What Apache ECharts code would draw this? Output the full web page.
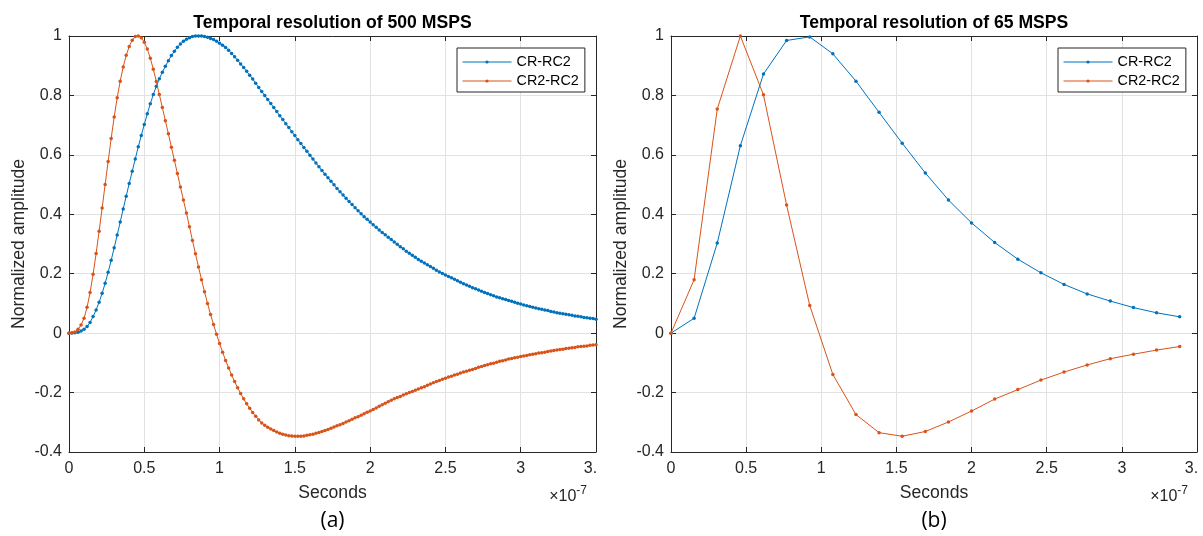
<!DOCTYPE html>
<html><head><meta charset="utf-8">
<script src="https://cdn.jsdelivr.net/npm/echarts@6/dist/echarts.min.js"></script>
<style>html,body{margin:0;padding:0;background:#fff}#c{width:1203px;height:536px}</style>
</head><body><div id="c"></div>
<script>
// ---------- data ----------
const SERIES_NAMES = ['CR-RC2', 'CR2-RC2'];
const TITLES = ['Temporal resolution of 500 MSPS', 'Temporal resolution of 65 MSPS'];
const PANEL_LABELS = ['(a)', '(b)'];
const X_NAME = 'Seconds';
const Y_NAME = 'Normalized amplitude';
const X_TICK_LABELS = ['0', '0.5', '1', '1.5', '2', '2.5', '3', '3.'];
const Y_TICK_LABELS = ['-0.4', '-0.2', '0', '0.2', '0.4', '0.6', '0.8', '1'];
const SAMPLE_RATE_A = 500e6;   // samples per second, panel (a)
const SAMPLE_RATE_B = 65e6;    // samples per second, panel (b)
const X_EXPONENT = 1e-7;

// panel (a): 500 MSPS
const CR_RC2_A = [
0,0.0002,0.001,0.003,0.007,0.013,0.022,0.036,0.056,0.078,
0.104,0.134,0.168,0.205,0.245,0.287,0.330,0.374,0.418,0.461,
0.504,0.545,0.586,0.627,0.665,0.702,0.738,0.772,0.803,0.831,
0.856,0.878,0.898,0.917,0.934,0.949,0.962,0.973,0.982,0.989,
0.994,0.998,1.000,1.000,1.000,0.998,0.996,0.992,0.988,0.982,
0.976,0.969,0.961,0.952,0.941,0.930,0.918,0.906,0.894,0.881,
0.868,0.855,0.841,0.827,0.813,0.800,0.786,0.773,0.759,0.746,
0.732,0.719,0.705,0.692,0.678,0.665,0.651,0.638,0.625,0.612,
0.599,0.586,0.573,0.560,0.547,0.535,0.523,0.511,0.499,0.487,
0.476,0.465,0.454,0.443,0.433,0.422,0.412,0.402,0.392,0.383,
0.374,0.365,0.356,0.347,0.339,0.331,0.323,0.315,0.307,0.299,
0.291,0.284,0.276,0.269,0.262,0.255,0.248,0.242,0.236,0.230,
0.224,0.218,0.212,0.206,0.201,0.196,0.191,0.186,0.181,0.176,
0.171,0.166,0.162,0.158,0.153,0.149,0.145,0.141,0.137,0.133,
0.129,0.126,0.122,0.119,0.116,0.113,0.110,0.107,0.104,0.101,
0.098,0.095,0.092,0.090,0.087,0.085,0.082,0.080,0.078,0.076,
0.073,0.071,0.069,0.067,0.065,0.064,0.062,0.060,0.058,0.057,
0.055,0.053,0.052,0.050,0.049,0.047
];
const CR2_RC2_A = [
0,0.001,0.004,0.013,0.027,0.050,0.087,0.137,0.198,0.268,
0.343,0.421,0.500,0.578,0.655,0.727,0.792,0.848,0.896,0.935,
0.965,0.986,0.998,1.000,0.994,0.979,0.956,0.925,0.888,0.847,
0.803,0.759,0.715,0.671,0.626,0.582,0.537,0.492,0.448,0.404,
0.358,0.312,0.267,0.223,0.180,0.139,0.100,0.063,0.029,-0.004,
-0.035,-0.064,-0.092,-0.117,-0.141,-0.163,-0.184,-0.203,-0.221,-0.238,
-0.253,-0.267,-0.280,-0.292,-0.302,-0.310,-0.317,-0.323,-0.328,-0.333,
-0.337,-0.340,-0.343,-0.345,-0.346,-0.347,-0.347,-0.347,-0.346,-0.344,
-0.342,-0.340,-0.337,-0.334,-0.331,-0.328,-0.324,-0.320,-0.316,-0.312,
-0.308,-0.304,-0.299,-0.295,-0.290,-0.285,-0.281,-0.276,-0.271,-0.266,
-0.262,-0.257,-0.252,-0.246,-0.241,-0.236,-0.231,-0.226,-0.221,-0.217,
-0.213,-0.208,-0.204,-0.200,-0.196,-0.192,-0.188,-0.184,-0.180,-0.175,
-0.171,-0.167,-0.163,-0.159,-0.155,-0.152,-0.148,-0.145,-0.141,-0.138,
-0.134,-0.131,-0.128,-0.125,-0.122,-0.119,-0.115,-0.112,-0.109,-0.106,
-0.103,-0.101,-0.098,-0.095,-0.093,-0.090,-0.087,-0.085,-0.083,-0.081,
-0.079,-0.077,-0.075,-0.073,-0.071,-0.069,-0.067,-0.066,-0.064,-0.062,
-0.060,-0.058,-0.057,-0.055,-0.054,-0.052,-0.051,-0.049,-0.048,-0.046,
-0.045,-0.044,-0.043,-0.041,-0.040,-0.039
];

// panel (b): 65 MSPS
const CR_RC2_B = [0, 0.050, 0.303, 0.631, 0.872, 0.985, 0.997, 0.940, 0.848, 0.743, 0.639, 0.539,
  0.448, 0.371, 0.305, 0.249, 0.203, 0.164, 0.132, 0.108, 0.086, 0.0685, 0.055];
const CR2_RC2_B = [0, 0.180, 0.754, 1.000, 0.802, 0.431, 0.093, -0.139, -0.274, -0.335, -0.347, -0.331,
  -0.299, -0.262, -0.222, -0.190, -0.158, -0.131, -0.107, -0.086, -0.071, -0.057, -0.045];

// ---------- styling ----------
const COLORS = ['#0072BD', '#D95319'];
const AXIS_COLOR = '#262626';
const GRID_COLOR = '#e2e2e2';
const FONT = '"Liberation Sans", Arial, Helvetica, sans-serif';

function toPairs(vals, rate) {
  return vals.map((v, i) => [i / rate / X_EXPONENT, v]);
}

const PANELS = [
  { left: 69, width: 527, rate: SAMPLE_RATE_A, series: [CR_RC2_A, CR2_RC2_A] },
  { left: 671, width: 526, rate: SAMPLE_RATE_B, series: [CR_RC2_B, CR2_RC2_B] }
];
const TOP = 36, HEIGHT = 416;

const grid = [], xAxis = [], yAxis = [], series = [], legend = [], graphic = [];

const tickStyle = { show: true, inside: true, length: 5, lineStyle: { color: AXIS_COLOR, width: 1 } };
const lineStyle = { show: true, onZero: false, lineStyle: { color: AXIS_COLOR, width: 1 } };

PANELS.forEach((p, g) => {
  grid.push({ left: p.left, top: TOP, width: p.width, height: HEIGHT, containLabel: false });
  const xBase = { type: 'value', gridIndex: g, min: 0, max: 3.5, interval: 0.5 };
  xAxis.push(Object.assign({}, xBase, {
    position: 'bottom', axisLine: lineStyle, axisTick: tickStyle,
    splitLine: { show: true, lineStyle: { color: GRID_COLOR, width: 1 } },
    axisLabel: {
      show: true, margin: 9, color: AXIS_COLOR, fontSize: 16, fontFamily: FONT,
      showMinLabel: true, showMaxLabel: true,
      formatter: (v) => {
        const i = Math.round(v / 0.5);
        const s = X_TICK_LABELS[i];
        return i === X_TICK_LABELS.length - 1 ? '{cut|' + s + '}' : s;
      },
      rich: { cut: { padding: [0, 11, 0, 0], fontSize: 16, color: AXIS_COLOR, fontFamily: FONT } }
    }
  }));
  xAxis.push(Object.assign({}, xBase, {
    position: 'top', axisLine: lineStyle, axisTick: tickStyle,
    splitLine: { show: false }, axisLabel: { show: false }
  }));
  const yBase = { type: 'value', gridIndex: g, min: -0.4, max: 1, interval: 0.2 };
  yAxis.push(Object.assign({}, yBase, {
    position: 'left', axisLine: lineStyle, axisTick: tickStyle,
    splitLine: { show: true, lineStyle: { color: GRID_COLOR, width: 1 } },
    axisLabel: {
      show: true, margin: 7, color: AXIS_COLOR, fontSize: 16, fontFamily: FONT,
      showMinLabel: true, showMaxLabel: true,
      formatter: (v) => Y_TICK_LABELS[Math.round((v + 0.4) / 0.2)]
    }
  }));
  yAxis.push(Object.assign({}, yBase, {
    position: 'right', axisLine: lineStyle, axisTick: tickStyle,
    splitLine: { show: false }, axisLabel: { show: false }
  }));

  p.series.forEach((vals, k) => {
    series.push({
      type: 'line', name: SERIES_NAMES[k], xAxisIndex: 2 * g, yAxisIndex: 2 * g,
      data: toPairs(vals, p.rate),
      symbol: 'circle', symbolSize: 3.5, showSymbol: true, showAllSymbol: true,
      lineStyle: { color: COLORS[k], width: 1 },
      itemStyle: { color: COLORS[k] },
      emphasis: { disabled: true }, silent: true, z: 2 + k
    });
  });

  legend.push({
    data: SERIES_NAMES, orient: 'vertical', align: 'left',
    left: p.left + p.width - 139, top: 48,
    itemWidth: 49, itemHeight: 4, itemGap: 5,
    padding: [7, 6, 4, 5],
    borderColor: AXIS_COLOR, borderWidth: 1, backgroundColor: '#fff',
    lineStyle: { width: 1 },
    textStyle: { fontSize: 14.4, color: '#000', fontFamily: FONT },
    selectedMode: false
  });

  const cx = p.left + p.width / 2;
  graphic.push({ type: 'text', x: cx, y: 23, silent: true,
    style: { text: TITLES[g], fill: '#000', fontSize: 17.6, fontWeight: 'bold', fontFamily: FONT, align: 'center', verticalAlign: 'middle' } });
  graphic.push({ type: 'text', x: cx, y: 493, silent: true,
    style: { text: X_NAME, fill: AXIS_COLOR, fontSize: 17.6, fontFamily: FONT, align: 'center', verticalAlign: 'middle' } });
  graphic.push({ type: 'text', x: p.left - 50, y: TOP + HEIGHT / 2, rotation: Math.PI / 2, silent: true,
    style: { text: Y_NAME, fill: AXIS_COLOR, fontSize: 17.6, fontFamily: FONT, align: 'center', verticalAlign: 'middle' } });
  graphic.push({ type: 'text', x: p.left + p.width - 9, y: 497, silent: true,
    style: { text: '×10{s|-7}', fill: AXIS_COLOR, fontSize: 16, fontFamily: FONT, align: 'right', verticalAlign: 'middle',
      rich: { s: { fontSize: 12, fontFamily: FONT, fill: AXIS_COLOR, padding: [0, 0, 12, 0] } } } });
  graphic.push({ type: 'text', x: cx, y: 521, silent: true,
    style: { text: PANEL_LABELS[g], fill: '#000', fontSize: 21, fontFamily: '"Open Sans", "Noto Sans", sans-serif', align: 'center', verticalAlign: 'middle' } });
});

const chart = echarts.init(document.getElementById('c'), null, { renderer: 'canvas' });
chart.setOption({
  animation: false,
  backgroundColor: '#fff',
  grid, xAxis, yAxis, series, legend, graphic
});
</script>
</body></html>
